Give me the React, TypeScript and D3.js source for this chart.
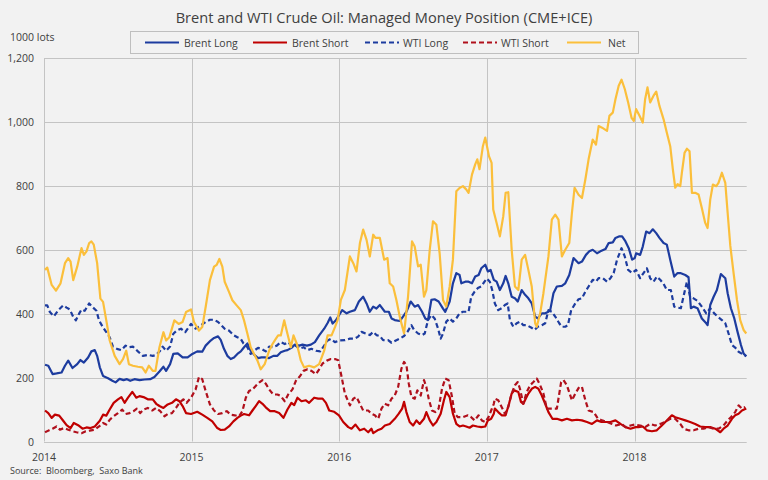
import React from "react";
import * as d3 from "d3";

type Pt = [number, number];

const title = "Brent and WTI Crude Oil: Managed Money Position (CME+ICE)";
const unitLabel = "1000 lots";
const sourceLabel = "Source:  Bloomberg,  Saxo Bank";
const yTicks = [0, 200, 400, 600, 800, 1000, 1200];
const xTicks = [2014, 2015, 2016, 2017, 2018];
const seriesNames = ["Brent Long", "Brent Short", "WTI Long", "WTI Short", "Net"];

const brentLong: Pt[] = [
  [2014.007,240],[2014.029,237],[2014.058,211],[2014.085,213],[2014.119,216],[2014.142,237],[2014.164,253],[2014.193,230],[2014.225,242],[2014.247,255],[2014.270,247],[2014.299,263],[2014.321,282],[2014.344,286],[2014.360,268],[2014.378,232],[2014.400,205],[2014.434,198],[2014.463,190],[2014.485,185],[2014.512,196],[2014.539,192],[2014.562,195],[2014.584,190],[2014.613,195],[2014.647,192],[2014.681,194],[2014.719,195],[2014.748,202],[2014.782,219],[2014.809,234],[2014.827,221],[2014.854,242],[2014.876,274],[2014.906,276],[2014.939,263],[2014.973,263],
  [2015.005,274],[2015.038,282],[2015.072,281],[2015.095,300],[2015.129,316],[2015.152,324],[2015.179,329],[2015.197,318],[2015.219,290],[2015.242,268],[2015.265,258],[2015.287,263],[2015.310,274],[2015.333,282],[2015.355,295],[2015.378,307],[2015.400,284],[2015.423,272],[2015.450,261],[2015.473,263],[2015.495,263],[2015.525,261],[2015.554,268],[2015.581,268],[2015.604,279],[2015.631,284],[2015.649,286],[2015.676,293],[2015.699,303],[2015.729,300],[2015.751,303],[2015.781,300],[2015.808,303],[2015.835,311],[2015.864,332],[2015.898,353],[2015.921,371],[2015.939,388],[2015.955,369],[2015.977,379],
  [2015.993,391],[2016.020,411],[2016.050,401],[2016.072,406],[2016.106,411],[2016.133,438],[2016.162,453],[2016.185,432],[2016.207,406],[2016.230,422],[2016.252,416],[2016.275,427],[2016.309,406],[2016.336,406],[2016.354,385],[2016.376,380],[2016.410,377],[2016.432,391],[2016.455,406],[2016.484,438],[2016.511,422],[2016.534,427],[2016.561,406],[2016.583,385],[2016.601,380],[2016.624,443],[2016.646,445],[2016.673,438],[2016.703,416],[2016.718,406],[2016.748,438],[2016.770,495],[2016.793,527],[2016.815,521],[2016.827,495],[2016.854,500],[2016.876,500],[2016.899,495],[2016.921,516],[2016.944,521],[2016.962,542],[2016.989,553],[2017.007,532],[2017.025,537],[2017.047,506],
  [2017.066,500],[2017.088,474],[2017.111,495],[2017.127,518],[2017.145,495],[2017.168,453],[2017.190,448],[2017.209,438],[2017.236,474],[2017.259,459],[2017.281,448],[2017.304,432],[2017.327,391],[2017.345,385],[2017.372,401],[2017.395,401],[2017.417,406],[2017.429,411],[2017.451,464],[2017.474,485],[2017.508,487],[2017.531,495],[2017.558,521],[2017.587,574],[2017.621,558],[2017.644,563],[2017.671,584],[2017.694,595],[2017.717,600],[2017.746,589],[2017.769,595],[2017.803,602],[2017.825,621],[2017.853,623],[2017.871,637],[2017.898,642],[2017.916,642],[2017.939,626],[2017.961,605],[2017.984,569],[2018.002,574],
  [2018.011,589],[2018.038,584],[2018.056,610],[2018.079,657],[2018.102,652],[2018.124,664],[2018.147,652],[2018.169,637],[2018.197,621],[2018.219,616],[2018.242,569],[2018.269,516],[2018.292,527],[2018.310,527],[2018.344,521],[2018.366,514],[2018.382,417],[2018.400,422],[2018.427,417],[2018.456,385],[2018.486,370],[2018.495,364],[2018.513,427],[2018.536,453],[2018.558,474],[2018.585,524],[2018.615,511],[2018.631,464],[2018.653,417],[2018.676,385],[2018.698,343],[2018.721,302],[2018.739,275],[2018.757,267],
];

const brentShort: Pt[] = [
  [2014.007,97],[2014.029,89],[2014.052,74],[2014.074,84],[2014.103,81],[2014.130,65],[2014.153,51],[2014.180,42],[2014.202,58],[2014.231,51],[2014.261,40],[2014.288,44],[2014.315,42],[2014.344,47],[2014.378,65],[2014.400,84],[2014.422,81],[2014.445,100],[2014.472,121],[2014.501,132],[2014.524,139],[2014.546,121],[2014.569,137],[2014.598,155],[2014.625,137],[2014.647,142],[2014.674,139],[2014.703,132],[2014.737,132],[2014.760,118],[2014.782,111],[2014.809,105],[2014.838,116],[2014.867,121],[2014.894,132],[2014.917,126],[2014.939,111],[2014.962,89],[2014.996,86],
  [2015.038,93],[2015.072,84],[2015.106,74],[2015.140,63],[2015.174,42],[2015.197,36],[2015.224,37],[2015.253,47],[2015.283,63],[2015.310,74],[2015.333,81],[2015.355,86],[2015.389,82],[2015.412,97],[2015.434,111],[2015.457,126],[2015.480,118],[2015.502,107],[2015.532,95],[2015.563,95],[2015.593,89],[2015.622,74],[2015.649,100],[2015.676,121],[2015.695,114],[2015.717,137],[2015.744,126],[2015.774,129],[2015.796,121],[2015.830,137],[2015.857,134],[2015.887,134],[2015.910,121],[2015.932,97],[2015.966,93],
  [2015.998,82],[2016.027,61],[2016.061,45],[2016.083,40],[2016.110,53],[2016.140,35],[2016.169,40],[2016.196,29],[2016.218,40],[2016.230,26],[2016.259,35],[2016.286,40],[2016.309,50],[2016.342,55],[2016.376,71],[2016.403,87],[2016.426,103],[2016.439,124],[2016.455,92],[2016.477,61],[2016.500,50],[2016.523,66],[2016.545,55],[2016.574,71],[2016.590,92],[2016.613,66],[2016.635,50],[2016.658,61],[2016.687,87],[2016.709,129],[2016.725,155],[2016.748,139],[2016.770,87],[2016.793,55],[2016.815,47],[2016.838,50],[2016.860,47],[2016.883,43],[2016.905,50],[2016.935,47],[2016.962,45],[2016.989,47],[2017.007,66],[2017.029,71],[2017.047,87],
  [2017.054,103],[2017.077,92],[2017.100,82],[2017.127,82],[2017.150,118],[2017.168,150],[2017.186,160],[2017.213,155],[2017.231,124],[2017.247,118],[2017.263,134],[2017.281,150],[2017.304,165],[2017.327,171],[2017.349,165],[2017.372,144],[2017.395,118],[2017.417,92],[2017.444,71],[2017.474,71],[2017.508,66],[2017.542,71],[2017.576,66],[2017.610,68],[2017.644,66],[2017.678,61],[2017.712,55],[2017.746,66],[2017.776,61],[2017.807,61],[2017.837,61],[2017.871,66],[2017.905,55],[2017.939,45],[2017.973,40],[2018.007,45],
  [2018.027,45],[2018.056,47],[2018.084,35],[2018.118,32],[2018.151,35],[2018.185,50],[2018.219,66],[2018.253,82],[2018.276,76],[2018.310,71],[2018.344,66],[2018.377,61],[2018.411,55],[2018.445,47],[2018.479,45],[2018.513,45],[2018.547,40],[2018.581,29],[2018.603,40],[2018.631,50],[2018.660,71],[2018.682,82],[2018.705,87],[2018.728,97],[2018.757,103],
];

const wtiLong: Pt[] = [
  [2014.007,426],[2014.022,426],[2014.040,405],[2014.067,392],[2014.097,411],[2014.130,426],[2014.153,419],[2014.175,413],[2014.198,390],[2014.216,379],[2014.238,400],[2014.254,413],[2014.276,409],[2014.306,432],[2014.328,421],[2014.355,409],[2014.373,379],[2014.396,360],[2014.422,342],[2014.445,326],[2014.467,297],[2014.494,290],[2014.524,286],[2014.553,300],[2014.575,295],[2014.602,297],[2014.636,282],[2014.670,268],[2014.703,271],[2014.737,268],[2014.760,271],[2014.787,284],[2014.804,297],[2014.827,284],[2014.854,297],[2014.876,337],[2014.899,347],[2014.928,353],[2014.957,342],[2014.996,368],
  [2015.027,353],[2015.061,363],[2015.095,374],[2015.124,381],[2015.152,381],[2015.179,374],[2015.197,366],[2015.224,353],[2015.253,347],[2015.287,332],[2015.310,326],[2015.333,321],[2015.351,307],[2015.378,295],[2015.400,274],[2015.423,284],[2015.450,293],[2015.473,290],[2015.502,282],[2015.525,297],[2015.548,295],[2015.577,300],[2015.604,311],[2015.631,305],[2015.654,311],[2015.683,297],[2015.706,300],[2015.729,290],[2015.758,295],[2015.785,286],[2015.812,290],[2015.842,284],[2015.871,282],[2015.898,300],[2015.921,316],[2015.943,321],[2015.971,311],[2016.000,316],
  [2016.038,317],[2016.072,322],[2016.106,322],[2016.128,328],[2016.151,343],[2016.178,338],[2016.207,333],[2016.230,343],[2016.252,333],[2016.275,330],[2016.297,317],[2016.331,317],[2016.354,309],[2016.387,317],[2016.410,322],[2016.439,330],[2016.462,343],[2016.489,364],[2016.507,349],[2016.534,338],[2016.561,333],[2016.579,338],[2016.601,380],[2016.624,396],[2016.646,385],[2016.669,354],[2016.687,322],[2016.703,338],[2016.725,375],[2016.748,385],[2016.770,375],[2016.793,385],[2016.815,401],[2016.838,406],[2016.860,406],[2016.876,406],[2016.894,453],[2016.917,469],[2016.939,480],[2016.962,485],[2016.984,500],[2017.000,510],[2017.020,500],
  [2017.036,474],[2017.054,432],[2017.077,411],[2017.100,417],[2017.122,427],[2017.141,432],[2017.156,380],[2017.179,359],[2017.202,370],[2017.224,375],[2017.247,364],[2017.270,364],[2017.299,357],[2017.322,349],[2017.345,359],[2017.372,364],[2017.395,370],[2017.417,411],[2017.440,406],[2017.463,391],[2017.490,370],[2017.508,359],[2017.531,359],[2017.549,364],[2017.571,411],[2017.599,432],[2017.621,445],[2017.644,448],[2017.667,469],[2017.689,485],[2017.717,506],[2017.739,500],[2017.757,511],[2017.785,511],[2017.814,500],[2017.837,511],[2017.859,527],[2017.882,569],[2017.912,605],[2017.934,579],[2017.957,537],[2017.984,527],[2018.011,537],
  [2018.038,511],[2018.061,527],[2018.084,542],[2018.106,511],[2018.129,500],[2018.151,516],[2018.174,506],[2018.197,493],[2018.219,474],[2018.246,474],[2018.269,422],[2018.292,419],[2018.314,417],[2018.337,464],[2018.355,500],[2018.377,453],[2018.400,448],[2018.427,440],[2018.456,422],[2018.486,401],[2018.513,417],[2018.540,401],[2018.563,391],[2018.592,380],[2018.615,370],[2018.637,338],[2018.660,302],[2018.682,294],[2018.705,281],[2018.734,273],[2018.757,267],
];

const wtiShort: Pt[] = [
  [2014.007,29],[2014.029,34],[2014.058,40],[2014.085,47],[2014.108,37],[2014.135,42],[2014.164,37],[2014.193,32],[2014.220,29],[2014.254,26],[2014.283,32],[2014.310,34],[2014.344,37],[2014.373,47],[2014.400,58],[2014.422,53],[2014.445,68],[2014.472,79],[2014.501,89],[2014.530,100],[2014.553,86],[2014.580,89],[2014.607,95],[2014.629,103],[2014.652,89],[2014.674,100],[2014.703,105],[2014.733,97],[2014.760,105],[2014.787,95],[2014.816,79],[2014.838,86],[2014.867,89],[2014.894,105],[2014.917,121],[2014.944,132],[2014.966,121],[2014.996,137],
  [2015.027,163],[2015.050,202],[2015.072,195],[2015.095,158],[2015.124,116],[2015.152,97],[2015.179,86],[2015.208,89],[2015.238,95],[2015.265,84],[2015.292,82],[2015.321,79],[2015.344,95],[2015.367,137],[2015.389,158],[2015.412,163],[2015.434,174],[2015.457,184],[2015.480,192],[2015.502,181],[2015.525,163],[2015.554,147],[2015.581,147],[2015.604,142],[2015.631,126],[2015.654,147],[2015.683,163],[2015.706,190],[2015.735,205],[2015.758,221],[2015.785,226],[2015.812,221],[2015.842,211],[2015.864,226],[2015.887,244],[2015.916,253],[2015.943,258],[2015.971,258],
  [2015.993,254],[2016.016,202],[2016.038,150],[2016.072,113],[2016.095,134],[2016.117,139],[2016.140,118],[2016.162,97],[2016.196,97],[2016.218,87],[2016.241,82],[2016.264,71],[2016.286,103],[2016.309,118],[2016.331,113],[2016.354,134],[2016.376,144],[2016.399,171],[2016.421,228],[2016.439,249],[2016.455,239],[2016.471,181],[2016.489,139],[2016.511,134],[2016.529,160],[2016.552,144],[2016.574,192],[2016.590,171],[2016.606,134],[2016.628,97],[2016.651,92],[2016.673,103],[2016.696,165],[2016.718,197],[2016.741,192],[2016.764,139],[2016.782,87],[2016.804,76],[2016.838,76],[2016.872,82],[2016.894,76],[2016.917,66],[2016.944,82],[2016.966,66],[2016.989,61],[2017.011,76],[2017.029,97],[2017.047,118],
  [2017.054,134],[2017.077,129],[2017.100,108],[2017.122,87],[2017.145,108],[2017.168,150],[2017.190,176],[2017.209,186],[2017.224,165],[2017.247,118],[2017.270,155],[2017.293,176],[2017.315,186],[2017.338,197],[2017.361,176],[2017.383,150],[2017.406,103],[2017.440,103],[2017.474,103],[2017.503,186],[2017.519,192],[2017.542,176],[2017.576,129],[2017.599,150],[2017.626,171],[2017.644,171],[2017.667,129],[2017.689,97],[2017.723,92],[2017.753,71],[2017.780,66],[2017.814,61],[2017.848,55],[2017.875,50],[2017.912,55],[2017.939,45],[2017.973,50],[2018.002,53],
  [2018.038,50],[2018.072,45],[2018.106,55],[2018.140,50],[2018.174,55],[2018.208,61],[2018.242,71],[2018.276,71],[2018.310,55],[2018.332,40],[2018.366,35],[2018.400,35],[2018.434,40],[2018.468,40],[2018.502,45],[2018.536,40],[2018.569,40],[2018.603,50],[2018.631,66],[2018.653,76],[2018.682,92],[2018.705,113],[2018.728,103],[2018.750,108],
];

const net: Pt[] = [
  [2014.007,537],[2014.022,544],[2014.052,490],[2014.081,472],[2014.112,495],[2014.142,558],[2014.164,574],[2014.180,563],[2014.198,505],[2014.225,547],[2014.254,605],[2014.270,584],[2014.288,595],[2014.306,621],[2014.321,626],[2014.337,616],[2014.360,558],[2014.382,447],[2014.400,437],[2014.422,379],[2014.445,316],[2014.479,268],[2014.512,242],[2014.535,258],[2014.557,284],[2014.575,242],[2014.602,237],[2014.636,234],[2014.665,232],[2014.688,216],[2014.710,237],[2014.737,221],[2014.755,221],[2014.782,295],[2014.809,342],[2014.827,316],[2014.849,326],[2014.883,379],[2014.912,368],[2014.939,374],[2014.962,405],[2014.996,413],
  [2015.016,374],[2015.050,347],[2015.072,358],[2015.095,421],[2015.124,505],[2015.152,547],[2015.170,553],[2015.188,571],[2015.208,547],[2015.224,500],[2015.253,468],[2015.276,442],[2015.305,426],[2015.333,411],[2015.355,379],[2015.378,337],[2015.400,295],[2015.423,274],[2015.446,253],[2015.468,226],[2015.495,242],[2015.525,284],[2015.548,305],[2015.570,321],[2015.586,332],[2015.604,332],[2015.627,379],[2015.649,337],[2015.672,295],[2015.690,332],[2015.713,305],[2015.740,253],[2015.762,232],[2015.796,237],[2015.830,232],[2015.864,242],[2015.898,284],[2015.921,332],[2015.948,332],[2015.971,358],
  [2015.989,380],[2016.011,443],[2016.038,474],[2016.072,579],[2016.095,558],[2016.117,532],[2016.140,621],[2016.162,663],[2016.185,631],[2016.207,579],[2016.230,647],[2016.245,637],[2016.275,637],[2016.304,569],[2016.327,574],[2016.342,495],[2016.365,485],[2016.387,443],[2016.410,390],[2016.439,338],[2016.466,453],[2016.493,626],[2016.511,610],[2016.534,548],[2016.552,553],[2016.574,453],[2016.590,474],[2016.613,600],[2016.635,689],[2016.658,678],[2016.680,589],[2016.703,443],[2016.725,422],[2016.748,485],[2016.770,569],[2016.793,783],[2016.815,793],[2016.838,799],[2016.860,789],[2016.876,778],[2016.899,835],[2016.921,867],[2016.935,883],[2016.950,852],[2016.973,924],[2016.989,951],
  [2017.014,893],[2017.032,872],[2017.043,726],[2017.066,684],[2017.088,642],[2017.111,705],[2017.127,778],[2017.145,780],[2017.168,600],[2017.190,485],[2017.213,474],[2017.236,569],[2017.259,584],[2017.281,537],[2017.304,485],[2017.327,370],[2017.338,359],[2017.361,401],[2017.383,464],[2017.417,579],[2017.440,694],[2017.463,710],[2017.485,694],[2017.508,579],[2017.531,600],[2017.558,621],[2017.576,715],[2017.594,794],[2017.621,772],[2017.644,762],[2017.667,820],[2017.689,883],[2017.717,945],[2017.739,929],[2017.757,987],[2017.780,982],[2017.814,972],[2017.830,1019],[2017.853,1029],[2017.871,1071],[2017.893,1113],[2017.912,1132],[2017.934,1103],[2017.957,1061],[2017.980,1013],[2017.995,1003],
  [2018.011,1040],[2018.034,1019],[2018.056,998],[2018.072,1071],[2018.088,1108],[2018.106,1061],[2018.129,1082],[2018.147,1095],[2018.169,1050],[2018.197,1008],[2018.219,966],[2018.242,924],[2018.260,851],[2018.276,794],[2018.292,805],[2018.310,799],[2018.321,841],[2018.339,903],[2018.355,916],[2018.373,908],[2018.389,778],[2018.411,778],[2018.434,773],[2018.456,731],[2018.479,684],[2018.495,668],[2018.513,757],[2018.531,804],[2018.554,799],[2018.569,809],[2018.592,841],[2018.615,809],[2018.631,715],[2018.649,612],[2018.671,528],[2018.694,443],[2018.716,380],[2018.739,349],[2018.757,338],
];

const seriesData: Pt[][] = [brentLong, brentShort, wtiLong, wtiShort, net];
const seriesColors = ["#1d3c9f", "#c00000", "#1d3c9f", "#b0101c", "#fbbf3b"];
const seriesDash = [null, null, "5,3", "5,3", null];

const W = 768, H = 480;
const M = { left: 44, right: 21.3, top: 58, bottom: 38.5 };
const FONT = "'Open Sans', 'Segoe UI', sans-serif";
const TEXT = "#404040";
const GRID = "#c4c4c4";

export default function App() {
  const x = d3.scaleLinear().domain([2014, 2018.76]).range([M.left, W - M.right]);
  const y = d3.scaleLinear().domain([0, 1200]).range([H - M.bottom, M.top]);
  const line = d3.line<Pt>().x(d => x(d[0])).y(d => y(d[1]));
  const fmt = d3.format(",");

  const legendX = [145, 253, 365, 463, 567];
  const legendTextX = [184, 292, 403, 501, 608];

  return (
    <svg width={W} height={H} style={{ position: "absolute", left: 0, top: 0, background: "#f2f2f2" }} fontFamily={FONT}>
      <rect x={0} y={0} width={W} height={H} fill="#f2f2f2" />
      <text x={384} y={17} textAnchor="middle" dominantBaseline="central" fontSize={14.6} fill={TEXT}>{title}</text>
      <text x={10} y={37} dominantBaseline="central" fontSize={10.5} fill={TEXT}>{unitLabel}</text>
      <rect x={130.5} y={31.5} width={508} height={22} fill="#f2f2f2" stroke="#bfbfbf" strokeWidth={1} />
      {seriesNames.map((n, i) => (
        <g key={n}>
          <line x1={legendX[i]} x2={legendX[i] + 34} y1={42.5} y2={42.5} stroke={seriesColors[i]} strokeWidth={2.2} strokeDasharray={seriesDash[i] ?? undefined} />
          <text x={legendTextX[i]} y={42.5} dominantBaseline="central" fontSize={10.5} fill={TEXT}>{n}</text>
        </g>
      ))}
      {yTicks.map(t => (
        <g key={t}>
          <line x1={M.left} x2={W - M.right} y1={Math.round(y(t)) + 0.5} y2={Math.round(y(t)) + 0.5} stroke={GRID} strokeWidth={1} />
          <text x={34} y={y(t)} textAnchor="end" dominantBaseline="central" fontSize={10.5} fill={TEXT}>{fmt(t)}</text>
        </g>
      ))}
      {xTicks.map(t => (
        <g key={t}>
          <line x1={Math.round(x(t)) + 0.5} x2={Math.round(x(t)) + 0.5} y1={y(1200)} y2={y(0)} stroke={GRID} strokeWidth={1} />
          <text x={x(t)} y={457} textAnchor="middle" dominantBaseline="central" fontSize={10.5} fill={TEXT}>{t}</text>
        </g>
      ))}
      {seriesData.map((s, i) => (
        <path key={i} d={line(s) ?? ""} fill="none" stroke={seriesColors[i]} strokeWidth={2.2} strokeLinejoin="round" strokeDasharray={seriesDash[i] ?? undefined} />
      ))}
      <text x={10} y={470} dominantBaseline="central" fontSize={9} fill={TEXT} style={{ whiteSpace: "pre" }}>{sourceLabel}</text>
    </svg>
  );
}
